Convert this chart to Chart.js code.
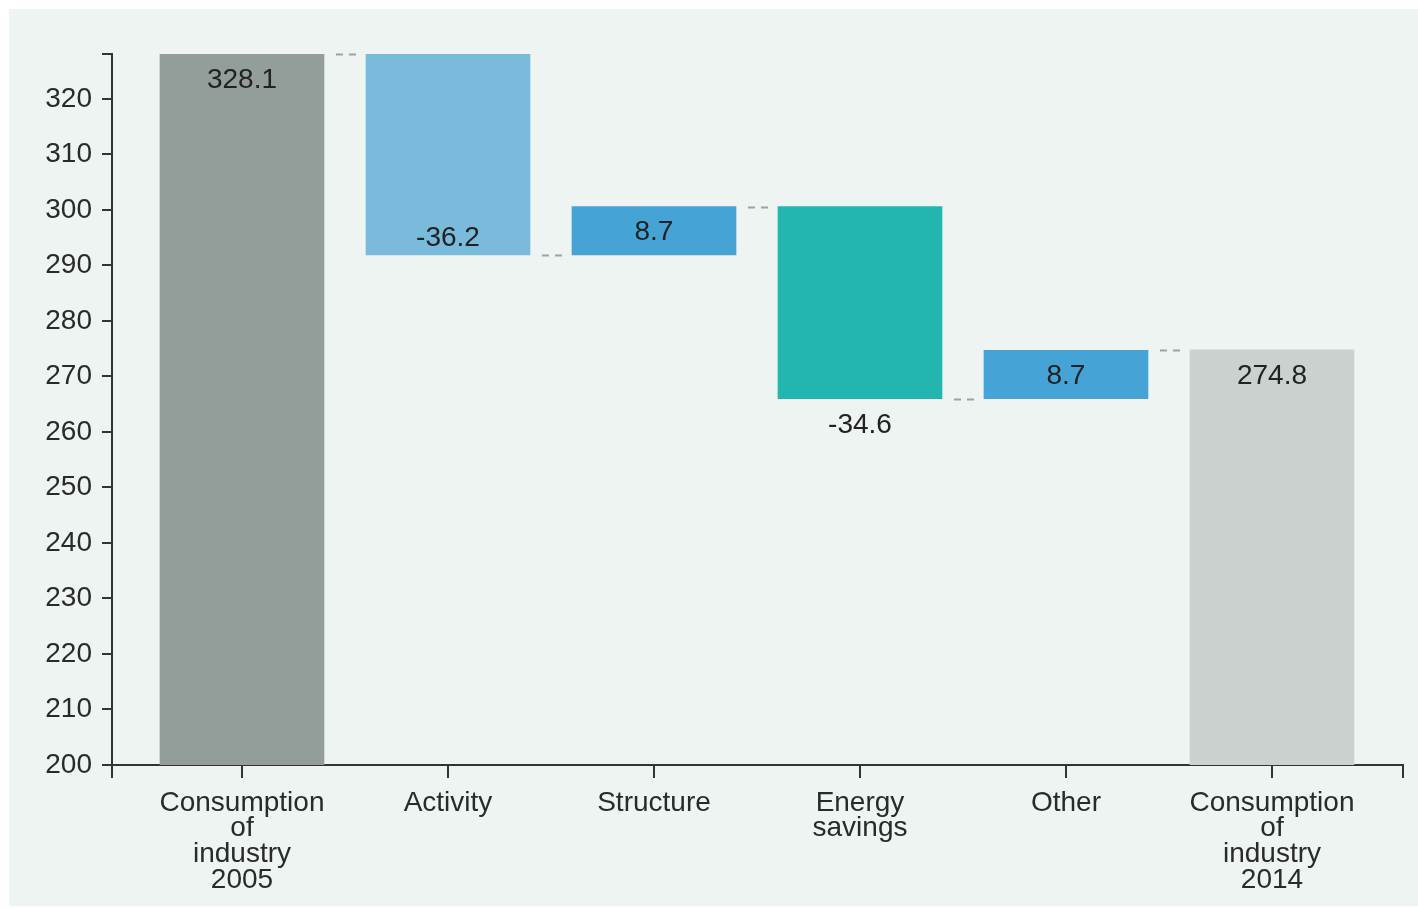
<!DOCTYPE html>
<html>
<head>
<meta charset="utf-8">
<script src="https://cdn.jsdelivr.net/npm/chart.js@4/dist/chart.umd.min.js"></script>
<style>
  html, body { margin: 0; padding: 0; background: #ffffff; }
  #wrap { position: relative; width: 1418px; height: 909px; }
</style>
</head>
<body>
<div id="wrap"><canvas id="waterfall"></canvas></div>
<script>
// categories and values
const categories = [
    ["Consumption", "of", "industry", "2005"],
    ["Activity"],
    ["Structure"],
    ["Energy", "savings"],
    ["Other"],
    ["Consumption", "of", "industry", "2014"]
];
const changes = [328.1, -36.2, 8.7, -34.6, 8.7, 274.8];
const isTotal = [true, false, false, false, false, true];
const yTicks = [200, 210, 220, 230, 240, 250, 260, 270, 280, 290, 300, 310, 320];
const barColors = ["#939e9a", "#7abadb", "#45a3d6", "#23b6b0", "#45a3d6", "#cbd1ce"];

const yMin = 200;

// floating bars: totals start at the axis, changes start at the running total
let running = 0;
const ranges = [];
const levels = [];
changes.forEach((v, i) => {
    if (isTotal[i]) {
        ranges.push([yMin, v]);
        running = v;
    } else {
        const next = Math.round((running + v) * 10) / 10;
        ranges.push([Math.min(running, next), Math.max(running, next)]);
        running = next;
    }
    levels.push(running);
});

const fontFamily = "'Liberation Sans', Arial, sans-serif";

const panelPlugin = {
    id: "panel",
    beforeDraw(chart) {
        const ctx = chart.ctx;
        ctx.save();
        ctx.fillStyle = "#edf4f2";
        ctx.fillRect(9, 9, chart.width - 9, chart.height - 12);
        ctx.restore();
    }
};

const connectorPlugin = {
    id: "connectors",
    afterDatasetsDraw(chart) {
        const ctx = chart.ctx;
        const meta = chart.getDatasetMeta(0);
        const yScale = chart.scales.y;
        ctx.save();
        ctx.strokeStyle = "#9aa3a0";
        ctx.lineWidth = 2;
        ctx.setLineDash([7, 6]);
        for (let i = 0; i < meta.data.length - 1; i++) {
            const a = meta.data[i], b = meta.data[i + 1];
            const y = Math.round(yScale.getPixelForValue(levels[i])) + 0.5;
            ctx.beginPath();
            ctx.moveTo(a.x + a.width / 2 + 12, y);
            ctx.lineTo(b.x - b.width / 2 - 9, y);
            ctx.stroke();
        }
        ctx.restore();
    }
};

const valueLabelPlugin = {
    id: "valueLabels",
    afterDatasetsDraw(chart, args, opts) {
        const ctx = chart.ctx;
        const meta = chart.getDatasetMeta(0);
        ctx.save();
        ctx.font = "28px " + fontFamily;
        ctx.fillStyle = "#222";
        ctx.textAlign = "center";
        ctx.textBaseline = "middle";
        meta.data.forEach((bar, i) => {
            const top = Math.min(bar.y, bar.base);
            const bottom = Math.max(bar.y, bar.base);
            let y;
            switch (opts.placement[i]) {
                case "insideTop": y = top + 26; break;
                case "insideBottom": y = bottom - 17; break;
                case "below": y = bottom + 27; break;
                default: y = (top + bottom) / 2 + 2;
            }
            ctx.fillText(changes[i].toFixed(1), bar.x, y);
        });
        ctx.restore();
    }
};

const xMin = -0.631, xMax = 5.636;
const yMax = changes[0];

new Chart(document.getElementById("waterfall"), {
    type: "bar",
    data: {
        datasets: [{
            data: ranges.map((r, i) => ({ x: i, y: r })),
            backgroundColor: barColors,
            borderWidth: 0,
            barThickness: 164
        }]
    },
    options: {
        responsive: true,
        maintainAspectRatio: false,
        animation: false,
        layout: { padding: { top: 54, right: 15, bottom: 0, left: 0 } },
        plugins: {
            legend: { display: false },
            tooltip: { enabled: false },
            valueLabels: {
                placement: ["insideTop", "insideBottom", "center", "below", "center", "insideTop"]
            }
        },
        scales: {
            x: {
                type: "linear",
                offset: false,
                min: xMin,
                max: xMax,
                afterBuildTicks(scale) {
                    scale.ticks = [xMin, 0, 1, 2, 3, 4, 5, xMax].map(v => ({ value: v }));
                },
                afterFit(scale) { scale.height = 144; },
                grid: {
                    offset: false,
                    drawOnChartArea: false,
                    drawTicks: true,
                    tickLength: 13,
                    color: "#333",
                    lineWidth: 2
                },
                border: { display: true, color: "#333", width: 2 },
                ticks: {
                    autoSkip: false,
                    maxRotation: 0,
                    padding: 12,
                    color: "#2a2a2a",
                    font: { family: fontFamily, size: 28, lineHeight: 0.92 },
                    callback(value) {
                        return Number.isInteger(value) && categories[value] ? categories[value] : "";
                    }
                }
            },
            y: {
                min: yMin,
                max: yMax,
                afterBuildTicks(scale) {
                    scale.ticks = yTicks.concat([yMax]).map(v => ({ value: v }));
                },
                afterFit(scale) { scale.width = 112; },
                grid: {
                    drawOnChartArea: false,
                    drawTicks: true,
                    tickLength: 10,
                    color: "#333",
                    lineWidth: 2
                },
                border: { display: true, color: "#333", width: 2 },
                ticks: {
                    padding: 10,
                    color: "#2a2a2a",
                    font: { family: fontFamily, size: 28 },
                    callback(value) {
                        return yTicks.includes(value) ? String(value) : "";
                    }
                }
            }
        }
    },
    plugins: [panelPlugin, connectorPlugin, valueLabelPlugin]
});
</script>
</body>
</html>
